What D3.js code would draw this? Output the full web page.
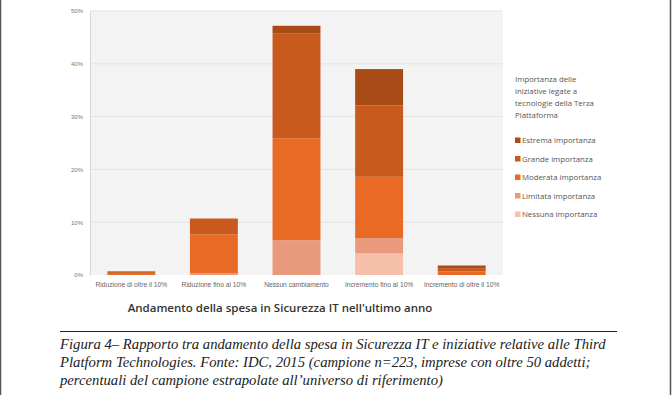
<!DOCTYPE html>
<html>
<head>
<meta charset="utf-8">
<script src="https://cdn.jsdelivr.net/npm/d3@7"></script>
<style>
  body { margin: 0; background: #fff; }
  svg { display: block; }
</style>
</head>
<body>
<div id="chart"></div>
<script>
// categories on the x axis
const categories = ["Riduzione di oltre il 10%", "Riduzione fino al 10%", "Nessun cambiamento",
                    "Incremento fino al 10%", "Incremento di oltre il 10%"];
// stack series, bottom to top
const seriesNames = ["Nessuna importanza", "Limitata importanza", "Moderata importanza",
                     "Grande importanza", "Estrema importanza"];
const nessuna  = [0,   0,   0,    4.1,  0];
const limitata = [0,   0.3, 6.6,  2.9,  0];
const moderata = [0.4, 7.4, 19.3, 11.6, 0.7];
const grande   = [0.3, 3.0, 19.9, 13.5, 0.6];
const estrema  = [0,   0,   1.4,  6.9,  0.5];
const yTicks = [0, 10, 20, 30, 40, 50];
const colors = ["#f5bfa9", "#ea9a7c", "#e96a24", "#c95a1e", "#a84b17"];

const width = 672, height = 395;
const margin = {top: 11, right: 169, bottom: 120, left: 90};

const svg = d3.select("#chart").append("svg")
    .attr("width", width).attr("height", height)
    .style("font-family", "'Open Sans', sans-serif");

// frame edges
svg.append("line").attr("x1", 0.5).attr("x2", 0.5).attr("y1", 0).attr("y2", height)
    .attr("stroke", "#555").attr("stroke-width", 1.5);
svg.append("line").attr("x1", 670.5).attr("x2", 670.5).attr("y1", 0).attr("y2", height)
    .attr("stroke", "#555").attr("stroke-width", 1.5);

const rows = categories.map((c, i) => ({
  cat: c,
  "Nessuna importanza": nessuna[i],
  "Limitata importanza": limitata[i],
  "Moderata importanza": moderata[i],
  "Grande importanza": grande[i],
  "Estrema importanza": estrema[i]
}));

const x = d3.scaleBand().domain(categories)
    .range([margin.left, width - margin.right]).paddingInner(0.42).paddingOuter(0.21);
const y = d3.scaleLinear().domain([0, 50]).range([275, margin.top]);
const color = d3.scaleOrdinal().domain(seriesNames).range(colors);

// plot background
svg.append("rect")
    .attr("x", margin.left).attr("y", y(50))
    .attr("width", width - margin.right - margin.left).attr("height", y(0) - y(50))
    .attr("fill", "#f3f3f3");

// grid lines
svg.append("g").selectAll("line").data(yTicks.slice(1)).join("line")
    .attr("x1", margin.left).attr("x2", width - margin.right)
    .attr("y1", d => y(d)).attr("y2", d => y(d))
    .attr("stroke", "#e3e3e3").attr("stroke-width", 1);

// y axis
const yAxis = svg.append("g").attr("transform", `translate(${margin.left},0)`)
    .call(d3.axisLeft(y).tickValues(yTicks).tickFormat(d => d + "%").tickSize(0).tickPadding(7));
yAxis.select(".domain").attr("stroke", "#d6d6d6");
yAxis.selectAll("text").attr("fill", "#777").style("font-size", "6px");

// stacked bars
const stacked = d3.stack().keys(seriesNames)(rows);
svg.append("g").selectAll("g").data(stacked).join("g")
    .attr("fill", d => color(d.key))
  .selectAll("rect").data(d => d).join("rect")
    .attr("x", d => x(d.data.cat))
    .attr("y", d => y(d[1]))
    .attr("width", x.bandwidth())
    .attr("height", d => y(d[0]) - y(d[1]));

// x axis
const xAxis = svg.append("g").attr("transform", `translate(0,${y(0)})`)
    .call(d3.axisBottom(x).tickSize(0).tickPadding(7));
xAxis.select(".domain").remove();
xAxis.selectAll("text").attr("fill", "#666").style("font-size", "6.7px");

// x axis title
svg.append("text")
    .attr("x", 280).attr("y", 312)
    .attr("text-anchor", "middle")
    .style("font-size", "11.5px").style("font-weight", 600).attr("fill", "#333")
    .text("Andamento della spesa in Sicurezza IT nell'ultimo anno");

// legend
const legend = svg.append("g").attr("transform", "translate(515,0)");
legend.append("text")
    .style("font-size", "7.8px").attr("fill", "#555")
    .selectAll("tspan")
    .data(["Importanza delle", "iniziative legate a", "tecnologie della Terza", "Piattaforma"])
    .join("tspan")
    .attr("x", 0).attr("y", (d, i) => 82 + i * 12)
    .text(d => d);

const items = legend.selectAll("g.item").data(seriesNames.slice().reverse()).join("g")
    .attr("class", "item")
    .attr("transform", (d, i) => `translate(0,${143 + i * 18.5})`);
items.append("rect").attr("x", 0).attr("y", -5.5).attr("width", 5.5).attr("height", 5.5)
    .attr("fill", d => color(d));
items.append("text").attr("x", 7).attr("y", 0)
    .style("font-size", "7.8px").attr("fill", "#555")
    .text(d => d);

// caption
svg.append("line").attr("x1", 60).attr("x2", 617).attr("y1", 331.5).attr("y2", 331.5)
    .attr("stroke", "#222").attr("stroke-width", 1);
const caption = ["Figura 4\u2013 Rapporto tra andamento della spesa in Sicurezza IT e iniziative relative alle Third",
                 "Platform Technologies. Fonte: IDC, 2015 (campione n=223, imprese con oltre 50 addetti;",
                 "percentuali del campione estrapolate all\u2019universo di riferimento)"];
svg.append("text")
    .style("font-family", "'Liberation Serif', 'DejaVu Serif', serif")
    .style("font-style", "italic").style("font-size", "14.7px").attr("fill", "#222")
    .selectAll("tspan").data(caption).join("tspan")
    .attr("x", 60).attr("y", (d, i) => 349 + i * 18)
    .text(d => d);
</script>
</body>
</html>
